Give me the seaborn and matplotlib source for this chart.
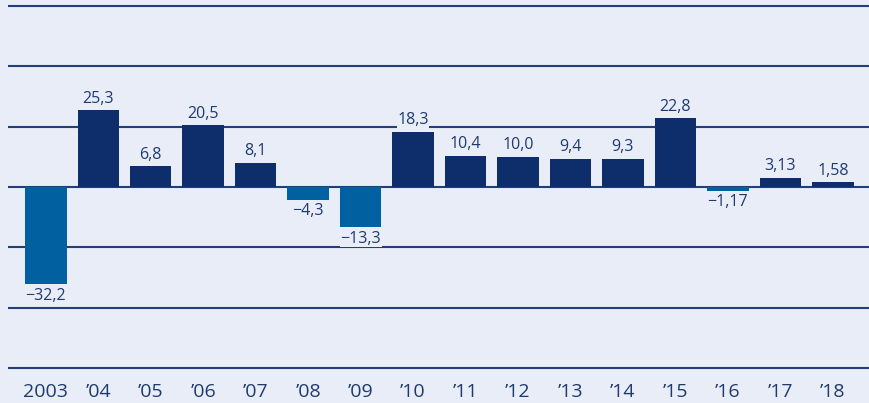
import numpy as np
import pandas as pd
import matplotlib
matplotlib.use("Agg")
import matplotlib.pyplot as plt
import seaborn as sns

# data
years = ["2003", "\u201904", "\u201905", "\u201906", "\u201907", "\u201908", "\u201909", "\u201910",
         "\u201911", "\u201912", "\u201913", "\u201914", "\u201915", "\u201916", "\u201917", "\u201918"]
values = [-32.2, 25.3, 6.8, 20.5, 8.1, -4.3, -13.3, 18.3,
          10.4, 10.0, 9.4, 9.3, 22.8, -1.17, 3.13, 1.58]
value_labels = ["\u221232,2", "25,3", "6,8", "20,5", "8,1", "\u22124,3", "\u221213,3", "18,3",
                "10,4", "10,0", "9,4", "9,3", "22,8", "\u22121,17", "3,13", "1,58"]

bg = "#e9edf7"
navy = "#0d2d6b"
mid_blue = "#0060a0"
text_col = "#1e3a70"
grid_col = "#213f78"

df = pd.DataFrame({"year": years, "value": values})
df["sign"] = np.where(df["value"] < 0, "neg", "pos")

sns.set_style("white")
plt.rcParams["font.family"] = ["Open Sans", "DejaVu Sans"]

fig = plt.figure(figsize=(8.69, 4.03), dpi=100, facecolor=bg)
ax = fig.add_axes([8 / 869, 28.5 / 403, 861 / 869, 375 / 403])
ax.set_facecolor(bg)

sns.barplot(data=df, x="year", y="value", hue="sign", palette={"pos": navy, "neg": mid_blue},
            dodge=False, width=0.79, legend=False, ax=ax, saturation=1, zorder=3,
            linewidth=0, edgecolor="none")

ax.set_xlim(-0.72, 15.69)
ax.set_ylim(-62, 62)
ax.set_yticks([-60, -40, -20, 0, 20, 40, 60])
ax.yaxis.grid(True, color=grid_col, linewidth=1.5, zorder=1)
ax.set_axisbelow(True)
ax.tick_params(axis="y", left=False, labelleft=False)
ax.tick_params(axis="x", bottom=False)
for s in ax.spines.values():
    s.set_visible(False)
ax.set_xlabel("")
ax.set_ylabel("")
ax.set_xticks(range(len(years)))
ax.set_xticklabels([])

# year labels below the plot
for i, yr in enumerate(years):
    ax.annotate(yr, (i, -62), xytext=(0, -12.5), textcoords="offset points",
                ha="center", va="center", fontsize=14, color=text_col,
                annotation_clip=False)

# value labels
for i, (v, lab) in enumerate(zip(values, value_labels)):
    off = 2.5 if v >= 0 else -2.5
    ax.annotate(lab, (i, v), xytext=(0, off), textcoords="offset points",
                ha="center", va="bottom" if v >= 0 else "top",
                fontsize=11.5, color=text_col, zorder=4,
                bbox=dict(facecolor=bg, edgecolor="none", pad=0.5))

fig.savefig("out.png", dpi=100, facecolor=bg)
